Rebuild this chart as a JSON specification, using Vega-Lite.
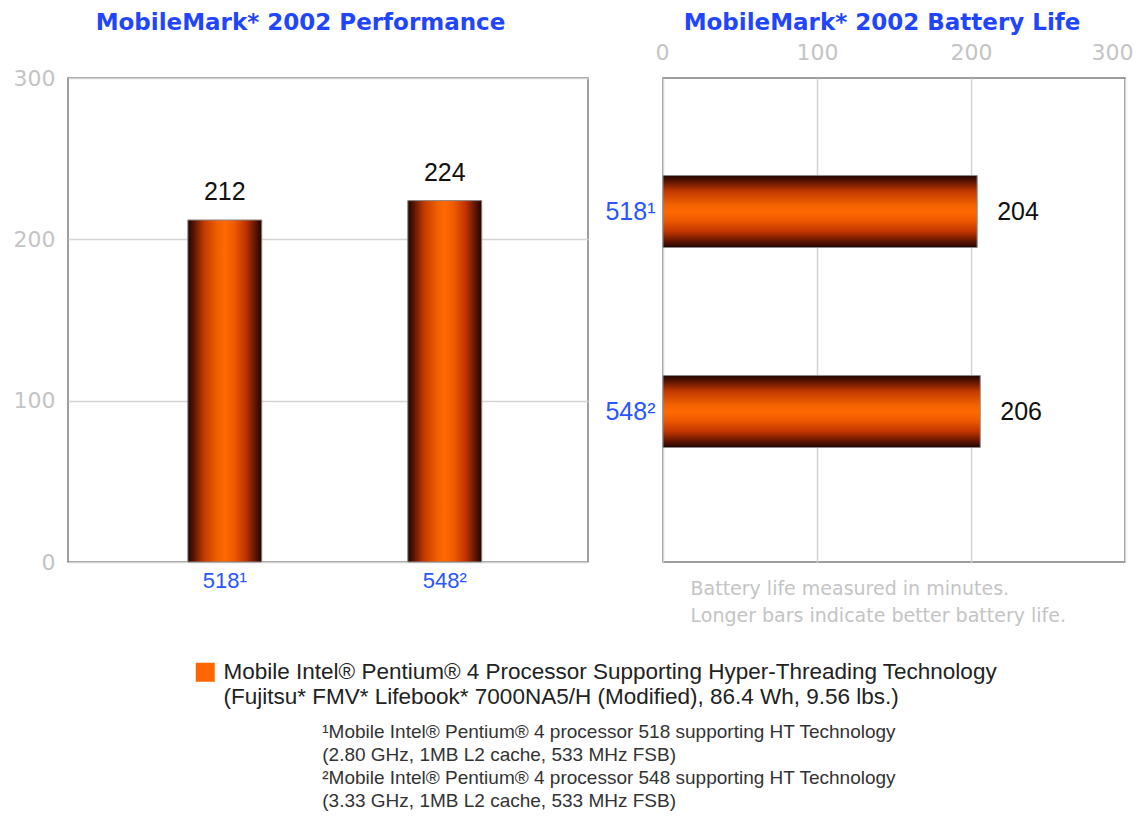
{
  "$schema": "https://vega.github.io/schema/vega-lite/v6.json",
  "background": "white",
  "padding": {"left": 12, "top": 11, "right": 0, "bottom": 0},
  "spacing": 15,
  "config": {
    "view": {"stroke": "#7f7f7f", "strokeWidth": 1.5},
    "font": "Liberation Sans",
    "axis": {"ticks": false, "domain": false, "title": null, "gridColor": "#d4d4d4", "gridWidth": 1.5}
  },
  "resolve": {"scale": {"color": "shared"}, "legend": {"color": "shared"}},
  "title": {
    "text": [
      "¹Mobile Intel® Pentium® 4 processor 518 supporting HT Technology",
      "\u2002(2.80 GHz, 1MB L2 cache, 533 MHz FSB)",
      "²Mobile Intel® Pentium® 4 processor 548 supporting HT Technology",
      "\u2002(3.33 GHz, 1MB L2 cache, 533 MHz FSB)"
    ],
    "orient": "bottom",
    "anchor": "start",
    "frame": "bounds",
    "dx": 310,
    "offset": 14,
    "font": "Liberation Sans",
    "fontSize": 19,
    "fontWeight": "normal",
    "color": "#333333",
    "lineHeight": 23
  },
  "hconcat": [
    {
      "width": 520,
      "height": 484,
      "title": {"text": "MobileMark* 2002 Performance", "frame": "bounds", "anchor": "middle", "font": "DejaVu Sans", "fontSize": 23, "fontWeight": "bold", "color": "#1f45ff", "offset": 32},
      "data": {"values": [
        {"cpu": "518¹", "score": 212, "series": "Mobile Intel® Pentium® 4 Processor Supporting Hyper-Threading Technology"},
        {"cpu": "548²", "score": 224, "series": "Mobile Intel® Pentium® 4 Processor Supporting Hyper-Threading Technology"}
      ]},
      "encoding": {
        "x": {"field": "cpu", "type": "nominal", "sort": null,
              "scale": {"paddingInner": 0.664, "paddingOuter": 0.514, "align": 0.53},
              "axis": {"labelAngle": 0, "labelColor": "#2a55ff", "labelFontSize": 22, "labelPadding": 8, "grid": false}},
        "y": {"field": "score", "type": "quantitative",
              "scale": {"domain": [0, 300], "nice": false},
              "axis": {"values": [0, 100, 200, 300], "labelFont": "DejaVu Sans", "labelFontSize": 22, "labelColor": "#c4c4c4", "labelPadding": 13, "grid": true}}
      },
      "layer": [
        {
          "mark": {"type": "bar"},
          "encoding": {
            "color": {"field": "series", "type": "nominal", "scale": {"range": ["#ff6600"]},
              "legend": {
                "orient": "none", "legendX": 126, "legendY": 583, "title": null,
                "symbolType": "square", "symbolSize": 361, "symbolStrokeWidth": 0,
                "labelFont": "Liberation Sans", "labelFontSize": 22.5, "labelColor": "#222222", "labelLimit": 1200, "labelOffset": 7,
                "labelExpr": "[datum.label, '(Fujitsu* FMV* Lifebook* 7000NA5/H (Modified), 86.4 Wh, 9.56 lbs.)']",
                "encoding": {"labels": {"update": {"lineHeight": {"value": 23}}}}
              }}
          }
        },
        {
          "mark": {"type": "bar", "stroke": "#8a8a8a", "strokeWidth": 1,
            "fill": {"gradient": "linear", "x1": 0, "y1": 0, "x2": 1, "y2": 0, "stops": [
              {"offset": 0, "color": "#1e0500"},
              {"offset": 0.08, "color": "#5a1400"},
              {"offset": 0.22, "color": "#c23a00"},
              {"offset": 0.4, "color": "#f06000"},
              {"offset": 0.5, "color": "#ff6a00"},
              {"offset": 0.62, "color": "#f05a00"},
              {"offset": 0.78, "color": "#c03400"},
              {"offset": 0.9, "color": "#6a1800"},
              {"offset": 1, "color": "#1e0500"}
            ]}}
        },
        {
          "mark": {"type": "text", "baseline": "alphabetic", "dy": -20, "fontSize": 25, "color": "#111111"},
          "encoding": {"text": {"field": "score", "type": "quantitative"}}
        }
      ]
    },
    {
      "width": 462,
      "height": 484,
      "title": {"text": "MobileMark* 2002 Battery Life", "frame": "group", "anchor": "middle", "dx": -12, "font": "DejaVu Sans", "fontSize": 23, "fontWeight": "bold", "color": "#1f45ff", "offset": 6},
      "data": {"values": [
        {"cpu": "518¹", "minutes": 204},
        {"cpu": "548²", "minutes": 206}
      ]},
      "encoding": {
        "y": {"field": "cpu", "type": "nominal", "sort": null,
              "scale": {"paddingInner": 0.64, "paddingOuter": 0.53, "align": 0.46},
              "axis": {"labelColor": "#2a55ff", "labelFontSize": 25, "labelPadding": 8, "grid": false}}
      },
      "layer": [
        {
          "mark": {"type": "bar", "stroke": "#8a8a8a", "strokeWidth": 1,
            "fill": {"gradient": "linear", "x1": 0, "y1": 0, "x2": 0, "y2": 1, "stops": [
              {"offset": 0, "color": "#1e0500"},
              {"offset": 0.08, "color": "#5a1400"},
              {"offset": 0.22, "color": "#c23a00"},
              {"offset": 0.4, "color": "#f06000"},
              {"offset": 0.5, "color": "#ff6a00"},
              {"offset": 0.62, "color": "#f05a00"},
              {"offset": 0.78, "color": "#c03400"},
              {"offset": 0.9, "color": "#6a1800"},
              {"offset": 1, "color": "#1e0500"}
            ]}},
          "encoding": {
            "x": {"field": "minutes", "type": "quantitative", "scale": {"domain": [0, 300], "nice": false},
                  "axis": {"orient": "top", "values": [0, 100, 200, 300], "labelFont": "DejaVu Sans", "labelFontSize": 22, "labelColor": "#c4c4c4", "labelPadding": 14, "labelFlush": true, "labelFlushOffset": 8, "grid": true}}
          }
        },
        {
          "mark": {"type": "text", "align": "left", "baseline": "middle", "dx": 20, "fontSize": 25, "color": "#111111"},
          "encoding": {
            "x": {"field": "minutes", "type": "quantitative", "scale": {"domain": [0, 300], "nice": false},
                  "axis": {"orient": "bottom", "labels": false, "grid": false,
                    "title": ["Battery life measured in minutes.", "Longer bars indicate better battery life."],
                    "titleAnchor": "start", "titleAlign": "left", "titleX": 27, "titleY": 17, "titleBaseline": "top",
                    "titleFont": "DejaVu Sans", "titleFontSize": 19, "titleFontWeight": "normal", "titleColor": "#c4c4c4", "titleLineHeight": 27}},
            "text": {"field": "minutes", "type": "quantitative"}
          }
        }
      ],
      "resolve": {"axis": {"x": "independent"}}
    }
  ]
}
